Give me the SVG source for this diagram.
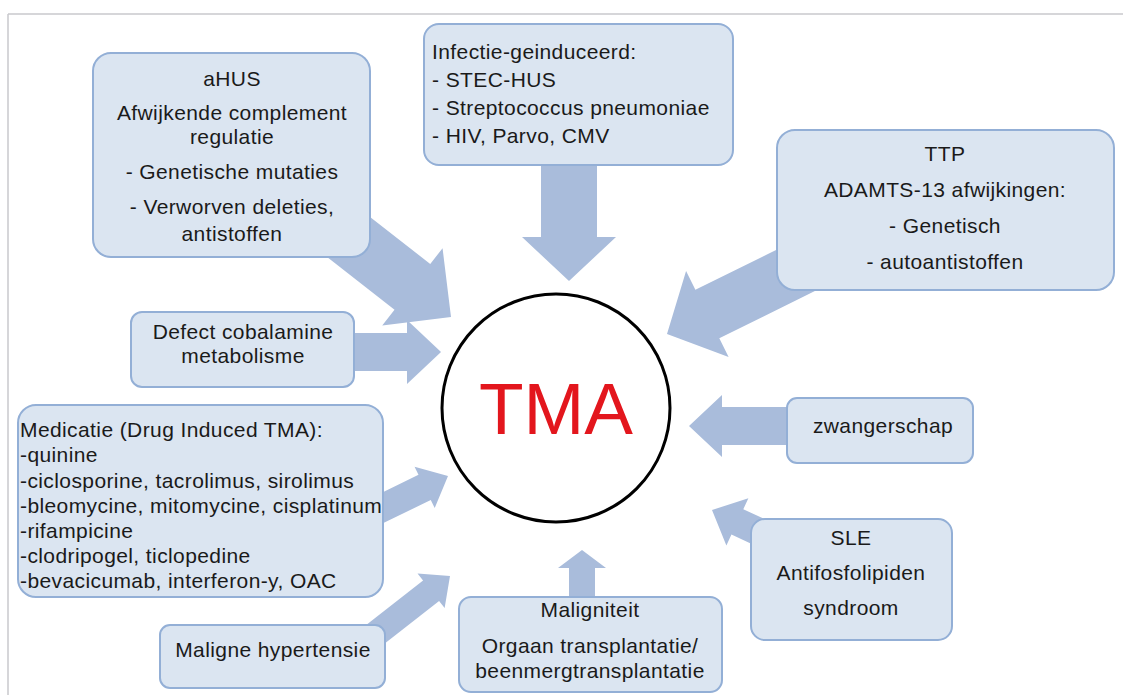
<svg xmlns="http://www.w3.org/2000/svg" width="1123" height="695" viewBox="0 0 1123 695">
<defs>
<style>
.box{fill:#dbe5f1;stroke:#93afd6;stroke-width:2}
.arr{fill:#a9bcdb}
text{font-family:"Liberation Sans",Arial,sans-serif;font-size:21px;fill:#1a1a1a;letter-spacing:0.4px}
.c{text-anchor:middle}
.tma{font-size:73px;fill:#e3161d;letter-spacing:0;text-anchor:middle}
</style>
</defs>
<rect x="0" y="0" width="1123" height="695" fill="#ffffff"/>
<g id="frame" stroke="#c9c9cc" stroke-width="1.5" fill="none">
<line x1="8" y1="14" x2="1123" y2="14"/>
<line x1="8" y1="14" x2="8" y2="695"/>
</g>
<g id="connectors">
<polygon class="arr" transform="translate(451,317) rotate(38)" points="0,0 -49,-49 -49,-29 -190,-29 -190,29 -49,29 -49,49"/>
<polygon class="arr" transform="translate(569,281) rotate(90)" points="0,0 -44,-47 -44,-28 -140,-28 -140,28 -44,28 -44,47"/>
<polygon class="arr" transform="translate(667,334) rotate(153.7)" points="0,0 -45,-48 -45,-27 -200,-27 -200,27 -45,27 -45,48"/>
<polygon class="arr" transform="translate(441,352) rotate(0)" points="0,0 -34,-32 -34,-19 -100,-19 -100,19 -34,19 -34,32"/>
<polygon class="arr" transform="translate(448,476) rotate(-26)" points="0,0 -26,-23 -26,-14 -85,-14 -85,14 -26,14 -26,23"/>
<polygon class="arr" transform="translate(450,576) rotate(-38)" points="0,0 -24,-22 -24,-13 -110,-13 -110,13 -24,13 -24,22"/>
<polygon class="arr" transform="translate(582,550) rotate(-90)" points="0,0 -18,-24 -18,-13 -70,-13 -70,13 -18,13 -18,24"/>
<polygon class="arr" transform="translate(689,426) rotate(180)" points="0,0 -33,-31 -33,-19 -111,-19 -111,19 -33,19 -33,31"/>
<polygon class="arr" transform="translate(712,510) rotate(205)" points="0,0 -28,-26 -28,-14 -85,-14 -85,14 -28,14 -28,26"/>
</g>
<g id="node-ahus">
<rect class="box" x="93" y="53" width="277" height="204" rx="18"/>
<text class="c" x="232" y="86">aHUS</text>
<text class="c" x="232" y="120">Afwijkende complement</text>
<text class="c" x="232" y="144">regulatie</text>
<text class="c" x="232" y="179">- Genetische mutaties</text>
<text class="c" x="232" y="214">- Verworven deleties,</text>
<text class="c" x="232" y="241">antistoffen</text>
</g>
<g id="node-infectie">
<rect class="box" x="424" y="24" width="309" height="141" rx="15"/>
<text x="432" y="59">Infectie-geinduceerd:</text>
<text x="432" y="87">- STEC-HUS</text>
<text x="432" y="115">- Streptococcus pneumoniae</text>
<text x="432" y="143">- HIV, Parvo, CMV</text>
</g>
<g id="node-ttp">
<rect class="box" x="777" y="130" width="337" height="160" rx="18"/>
<text class="c" x="945" y="161">TTP</text>
<text class="c" x="945" y="197">ADAMTS-13 afwijkingen:</text>
<text class="c" x="945" y="233">- Genetisch</text>
<text class="c" x="945" y="269">- autoantistoffen</text>
</g>
<g id="node-defect">
<rect class="box" x="131" y="312" width="223" height="75" rx="11"/>
<text class="c" x="243" y="339">Defect cobalamine</text>
<text class="c" x="243" y="363">metabolisme</text>
</g>
<g id="node-medicatie">
<rect class="box" x="18" y="405" width="365" height="192" rx="18"/>
<text x="20" y="437">Medicatie (Drug Induced TMA):</text>
<text x="20" y="462">-quinine</text>
<text x="20" y="488">-ciclosporine, tacrolimus, sirolimus</text>
<text x="20" y="513">-bleomycine, mitomycine, cisplatinum</text>
<text x="20" y="538">-rifampicine</text>
<text x="20" y="563">-clodripogel, ticlopedine</text>
<text x="20" y="588">-bevacicumab, interferon-y,  OAC</text>
</g>
<g id="node-maligne-hypertensie">
<rect class="box" x="160" y="625" width="225" height="63" rx="10"/>
<text class="c" x="273" y="657">Maligne hypertensie</text>
</g>
<g id="node-maligniteit">
<rect class="box" x="459" y="597" width="263" height="95" rx="12"/>
<text class="c" x="590" y="617">Maligniteit</text>
<text class="c" x="590" y="653">Orgaan transplantatie/</text>
<text class="c" x="590" y="678">beenmergtransplantatie</text>
</g>
<g id="node-zwangerschap">
<rect class="box" x="787" y="398" width="186" height="65" rx="10"/>
<text class="c" x="883" y="433">zwangerschap</text>
</g>
<g id="node-sle">
<rect class="box" x="751" y="519" width="201" height="121" rx="14"/>
<text class="c" x="851" y="545">SLE</text>
<text class="c" x="851" y="580">Antifosfolipiden</text>
<text class="c" x="851" y="615">syndroom</text>
</g>
<g id="node-tma">
<circle cx="556" cy="408" r="114" fill="#ffffff" stroke="#000000" stroke-width="3"/>
<text class="tma" x="556" y="434">TMA</text>
</g>
</svg>
